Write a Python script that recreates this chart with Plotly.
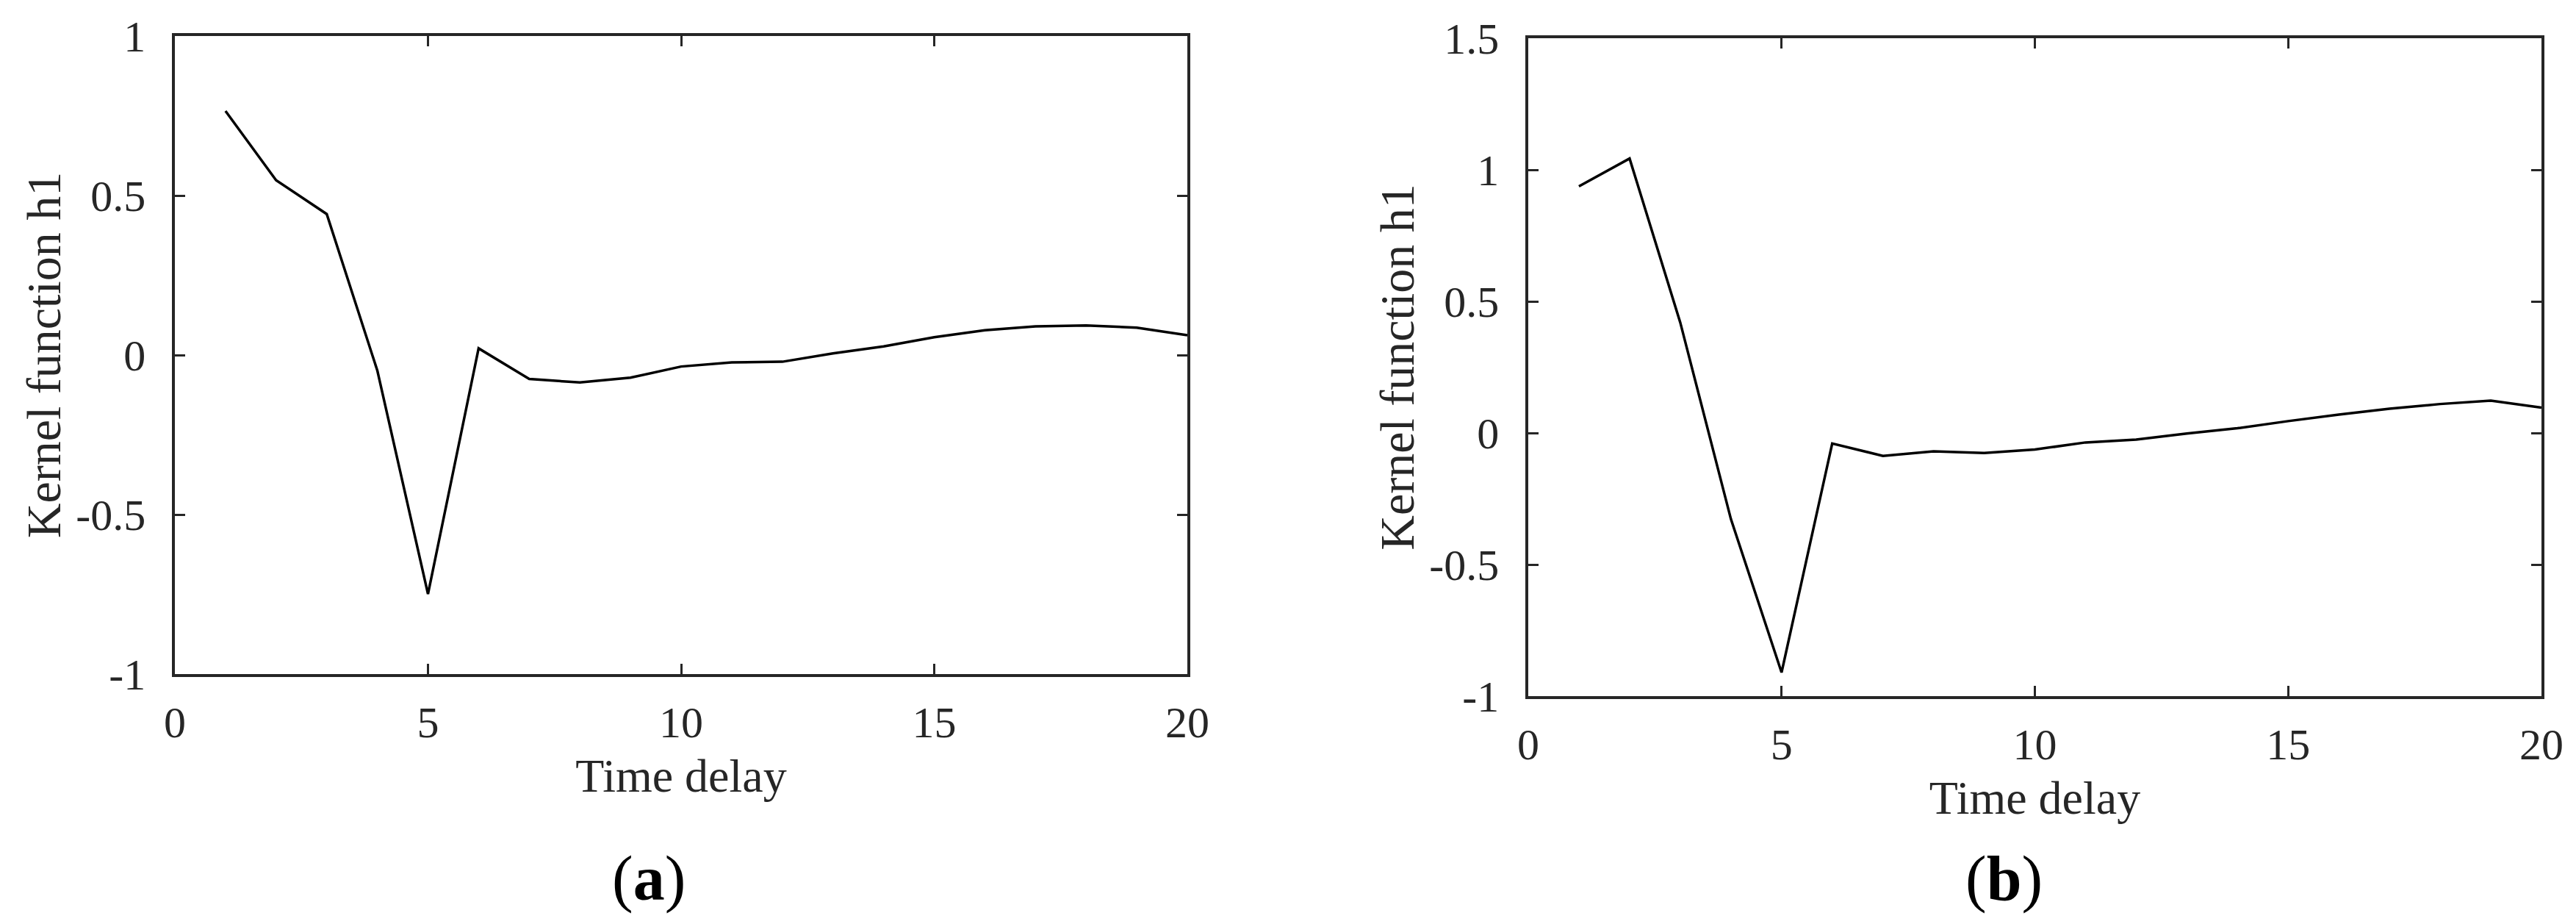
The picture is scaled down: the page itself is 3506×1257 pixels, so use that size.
import plotly.graph_objects as go

# time delays and kernel estimates for the two panels
delay = list(range(1, 21))
h1_a = [0.765, 0.548, 0.442, -0.049, -0.749, 0.021, -0.075, -0.086, -0.071, -0.036,
        -0.023, -0.021, 0.005, 0.027, 0.056, 0.078, 0.090, 0.093, 0.086, 0.062]
h1_b = [0.937, 1.043, 0.420, -0.327, -0.910, -0.040, -0.087, -0.070, -0.076, -0.063,
        -0.036, -0.025, -0.002, 0.018, 0.045, 0.070, 0.092, 0.110, 0.123, 0.096]

x_ticks = [0, 5, 10, 15, 20]
y_ticks_a = [-1, -0.5, 0, 0.5, 1]
y_ticks_b = [-1, -0.5, 0, 0.5, 1, 1.5]
panel_labels = ["(<b>a</b>)", "(<b>b</b>)"]

W, H = 3506, 1257
FONT = "Liberation Serif, Times New Roman, serif"
INK = "#262626"

fig = go.Figure()
fig.add_trace(go.Scatter(x=delay, y=h1_a, mode="lines", xaxis="x", yaxis="y",
                         line=dict(color="black", width=3.5), showlegend=False))
fig.add_trace(go.Scatter(x=delay, y=h1_b, mode="lines", xaxis="x2", yaxis="y2",
                         line=dict(color="black", width=3.5), showlegend=False))

common = dict(
    showline=True, linecolor=INK, linewidth=3.5, mirror="ticks",
    ticks="inside", ticklen=14, tickwidth=3, tickcolor=INK,
    showgrid=False, zeroline=False, automargin=False,
    tickfont=dict(family=FONT, size=60, color=INK),
)


def xax(domain, anchor):
    return dict(common, domain=domain, anchor=anchor, range=[0, 20],
                tickvals=x_ticks, ticklabelstandoff=10,
                title=dict(text="Time delay", standoff=18,
                           font=dict(family=FONT, size=64, color=INK)))


def yax(domain, anchor, rng, ticks):
    return dict(common, domain=domain, anchor=anchor, range=rng,
                tickvals=ticks, ticktext=[f"{v:g}" for v in ticks],
                ticklabelstandoff=24,
                title=dict(text="Kernel function h1", standoff=0,
                           font=dict(family=FONT, size=66, color=INK)))


fig.update_layout(
    width=W, height=H,
    margin=dict(l=0, r=0, t=0, b=0, autoexpand=False),
    paper_bgcolor="white", plot_bgcolor="white",
    xaxis=xax([238 / W, 1616 / W], "y"),
    yaxis=yax([1 - 917 / H, 1 - 49 / H], "x", [-1, 1], y_ticks_a),
    xaxis2=xax([2080 / W, 3459 / W], "y2"),
    yaxis2=yax([1 - 947 / H, 1 - 52 / H], "x2", [-1, 1.5], y_ticks_b),
)

# panel captions below each chart
for label, xc in zip(panel_labels, [883, 2727]):
    fig.add_annotation(text=label, x=xc / W, y=1 - 1195 / H, xref="paper", yref="paper",
                       showarrow=False, xanchor="center", yanchor="middle",
                       font=dict(family=FONT, size=86, color="black"))

# drop the browser's default page margin so the figure sits at (0, 0)
fig.write_html("out.html", config={"displayModeBar": False},
               post_script="document.body.style.margin='0';")
